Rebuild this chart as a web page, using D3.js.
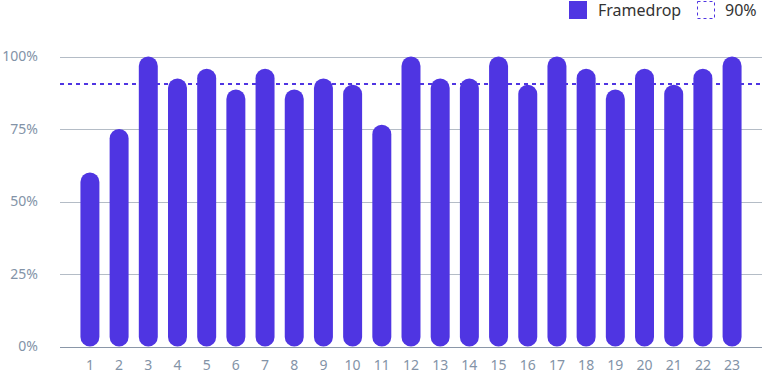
<!DOCTYPE html>
<html lang="en">
    <head>
        <meta charset="utf-8">
        <title>Framedrop</title>
        <script type="text/javascript" src="https://cdnjs.cloudflare.com/ajax/libs/d3/7.8.5/d3.min.js"></script>
        <style type="text/css">
            body { margin: 0; background: #fff; }
            text { font-family: "Noto Sans", sans-serif; }
        </style>
    </head>
    <body>
        <script type="text/javascript">
            var categories = ["1","2","3","4","5","6","7","8","9","10","11","12","13","14","15","16","17","18","19","20","21","22","23"];
            var framedrop = [60, 75, 100, 92.4, 95.8, 88.6, 95.8, 88.6, 92.4, 90.3, 76.5, 100, 92.4, 92.4, 100, 90.3, 100, 95.8, 88.6, 95.8, 90.3, 95.8, 100];
            var threshold = 90.5;
            var yTicks = [0, 25, 50, 75, 100];
            var legendLabels = ["Framedrop", "90%"];

            var w = 762;
            var h = 374;
            var purple = "#4f35e2";

            var svg = d3.select("body")
                        .append("svg")
                        .attr("width", w)
                        .attr("height", h);

            var x = d3.scaleBand()
                      .domain(categories)
                      .range([60, 762])
                      .paddingInner(0.35)
                      .paddingOuter(0.7);

            var y = d3.scaleLinear()
                      .domain([0, 100])
                      .range([346.5, 56.5]);

            // gridlines
            svg.selectAll("line.grid")
               .data(yTicks)
               .enter()
               .append("line")
               .attr("class", "grid")
               .attr("x1", 60)
               .attr("x2", w)
               .attr("y1", function (d) { return Math.round(y(d)) + 0.5; })
               .attr("y2", function (d) { return Math.round(y(d)) + 0.5; })
               .attr("stroke", function (d) { return d === 0 ? "#8a97a8" : "#b4bcc6"; })
               .attr("stroke-width", 1);

            // y axis labels
            var yAxis = d3.axisLeft(y)
                          .tickValues(yTicks)
                          .tickSize(0)
                          .tickPadding(0)
                          .tickFormat(function (d) { return d + "%"; });

            var gy = svg.append("g")
                        .attr("transform", "translate(38,0)")
                        .call(yAxis);
            gy.select(".domain").remove();
            gy.selectAll("text")
              .attr("fill", "#8393a7")
              .style("font-size", "14px")
              .style("font-family", "Noto Sans, sans-serif");

            // x axis labels
            var xAxis = d3.axisBottom(x).tickSize(0).tickPadding(0);
            var gx = svg.append("g")
                        .attr("transform", "translate(0,360)")
                        .call(xAxis);
            gx.select(".domain").remove();
            gx.selectAll("text")
              .attr("fill", "#8393a7")
              .style("font-size", "14px")
              .style("font-family", "Noto Sans, sans-serif");

            // bars
            svg.selectAll("rect.bar")
               .data(framedrop)
               .enter()
               .append("rect")
               .attr("class", "bar")
               .attr("x", function (d, i) { return x(categories[i]); })
               .attr("y", function (d) { return y(d); })
               .attr("width", x.bandwidth())
               .attr("height", function (d) { return y(0) - y(d); })
               .attr("rx", x.bandwidth() / 2)
               .attr("ry", x.bandwidth() / 2)
               .attr("fill", purple);

            // threshold line
            svg.append("line")
               .attr("x1", 60)
               .attr("x2", w)
               .attr("y1", y(threshold))
               .attr("y2", y(threshold))
               .attr("stroke", purple)
               .attr("stroke-width", 2)
               .attr("stroke-dasharray", "4,4");

            // legend
            svg.append("rect")
               .attr("x", 569)
               .attr("y", 1)
               .attr("width", 18)
               .attr("height", 18)
               .attr("fill", purple);
            svg.append("text")
               .attr("x", 598)
               .attr("y", 10)
               .attr("dy", "0.35em")
               .attr("fill", "#333")
               .style("font-size", "16px")
               .text(legendLabels[0]);
            svg.append("rect")
               .attr("x", 697.5)
               .attr("y", 1.5)
               .attr("width", 17)
               .attr("height", 17)
               .attr("fill", "none")
               .attr("stroke", purple)
               .attr("stroke-width", 1)
               .attr("stroke-dasharray", "3,3");
            svg.append("text")
               .attr("x", 725)
               .attr("y", 10)
               .attr("dy", "0.35em")
               .attr("fill", "#333")
               .style("font-size", "16px")
               .text(legendLabels[1]);
        </script>
    </body>
</html>
